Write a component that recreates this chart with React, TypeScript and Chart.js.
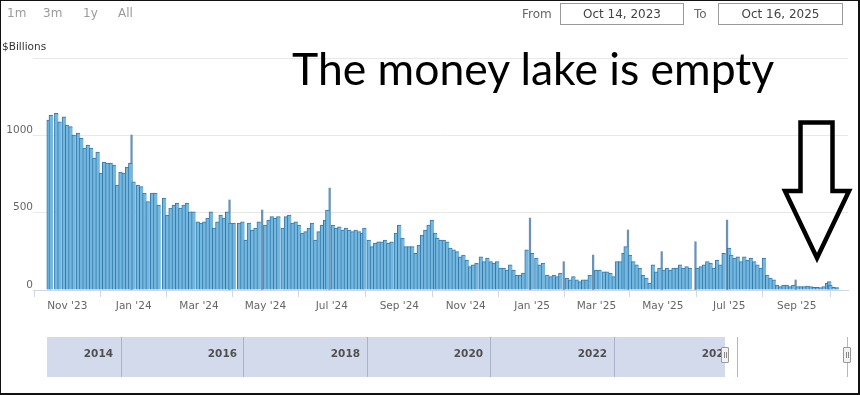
import React, { useEffect, useRef } from 'react';
import { Chart, registerables } from 'chart.js';

Chart.register(...registerables);

// ---- data (ON RRP facility, $ billions), day offsets counted from Oct 14, 2023 ----
const fromLabel = 'Oct 14, 2023';
const toLabel = 'Oct 16, 2025';

const dayOffsets = [
  1, 3, 8, 11, 15, 18, 21, 24, 28, 31, 34, 37, 40, 43, 46, 49, 52, 55, 58, 61, 64, 67, 70, 73, 76, 79, 83, 86, 89,
  92, 96, 99, 102, 107, 110, 113, 116, 119, 122, 125, 128, 131, 134, 138, 141, 144, 147, 150, 153, 156, 159, 162, 165, 168, 171,
  176, 179, 182, 185, 188, 191, 194, 200, 203, 206, 209, 212, 216, 219, 222, 225, 228, 231, 234, 237, 240, 243, 246, 249, 252,
  255, 257, 262, 265, 268, 271, 274, 277, 280, 283, 286, 289, 291, 295, 298, 301, 304, 307, 310, 313, 316, 320, 323, 326, 329,
  332, 335, 338, 341, 344, 347, 350, 353, 356, 358, 361, 364, 367, 370, 373, 376, 379, 382, 385, 388, 391, 394, 398, 401, 404, 407,
  410, 413, 416, 419, 422, 425, 428, 431, 434, 437, 440, 445, 449, 452, 455, 459, 462, 465, 468, 471, 477, 480, 483, 486,
  489, 492, 495, 498, 504, 507, 511, 514, 517, 520, 523, 526, 529, 531, 535, 538, 541, 544, 547, 550, 553, 556, 559, 562,
  566, 569, 572, 575, 578, 581, 584, 587, 590, 597, 600, 603, 606, 609, 612, 615, 618, 621, 626, 628, 631, 634, 637,
  640, 643, 646, 649, 652, 655, 658, 661, 664, 667, 670, 673, 676, 679, 682, 685, 689, 692, 695, 698, 701, 704, 707, 710, 713,
  716, 718, 719, 722, 725,
];

const rrpBillions = [
  1099, 1131, 1142, 1088, 1120, 1067, 1056, 1002, 1015, 983, 918, 937, 918, 853, 892, 756, 827, 821, 821, 808, 679, 763, 756, 795, 821, 700, 679, 668, 627,
  571, 627, 627, 549, 595, 485, 530, 549, 562, 530, 549, 562, 506, 506, 441, 433, 441, 465, 506, 401, 441, 485, 465, 506, 433, 433,
  433, 441, 323, 433, 388, 401, 441, 420, 452, 474, 465, 474, 401, 474, 485, 433, 441, 420, 368, 377, 401, 433, 323, 377, 420,
  452, 517, 420, 401, 409, 388, 401, 388, 377, 388, 377, 368, 401, 323, 280, 304, 312, 312, 323, 304, 312, 368, 420, 336, 280,
  280, 280, 237, 291, 355, 388, 420, 452, 368, 336, 323, 323, 312, 271, 259, 248, 215, 226, 194, 151, 162, 174, 215, 183, 207, 183,
  174, 183, 142, 142, 129, 162, 129, 97, 97, 110, 259, 237, 207, 162, 174, 97, 86, 97, 86, 110, 77, 65, 86, 65,
  54, 65, 65, 97, 129, 129, 118, 118, 110, 86, 183, 183, 237, 280, 226, 183, 162, 142, 97, 77, 45, 162, 118, 142,
  129, 142, 129, 142, 142, 162, 142, 151, 142, 142, 151, 162, 183, 174, 142, 194, 162, 237, 271, 226, 207, 215, 183,
  215, 194, 207, 183, 162, 142, 207, 97, 77, 65, 32, 22, 32, 32, 22, 32, 22, 22, 22, 26, 22, 17, 17, 15, 22,
  45, 54, 32, 17, 15,
];

// month-end / quarter-end one-day spikes
const spikeDays = [77, 167, 197, 259, 443, 474, 501, 533, 564, 595, 624, 687];
const spikeBillions = [1002, 582, 517, 659, 465, 183, 226, 388, 248, 312, 452, 65];

const yTickValues = [0, 500, 1000, 1500];
const monthTickDays = [18, 79, 139, 200, 261, 323, 384, 445, 504, 565, 626, 688];
const monthTickLabels = ["Nov '23", "Jan '24", "Mar '24", "May '24", "Jul '24", "Sep '24", "Nov '24", "Jan '25", "Mar '25", "May '25", "Jul '25", "Sep '25"];

const rangeButtons = ['1m', '3m', '1y', 'All'];
const navigatorYears = ['2014', '2016', '2018', '2020', '2022', '2024'];
const yAxisTitle = '$Billions';
const headline = 'The money lake is empty';

const FONT = '"DejaVu Sans", Verdana, sans-serif';

export default function App() {
  const canvasRef = useRef<HTMLCanvasElement | null>(null);

  useEffect(() => {
    document.body.style.margin = '0';
    const canvas = canvasRef.current;
    if (!canvas) return;
    const chart = new Chart(canvas, {
      type: 'bar',
      data: {
        datasets: [
          {
            data: dayOffsets.map((d, i) => ({ x: d, y: rrpBillions[i] })),
            backgroundColor: '#74b8e0',
            borderColor: '#3379aa',
            borderWidth: { left: 1, top: 1, right: 0, bottom: 0 },
            borderSkipped: 'start',
            barThickness: 4,
            grouped: false,
            order: 1,
          } as any,
          {
            data: spikeDays.map((d, i) => ({ x: d, y: spikeBillions[i] })),
            backgroundColor: '#6a93b4',
            borderWidth: 0,
            barThickness: 1.6,
            grouped: false,
            order: 2,
          } as any,
        ],
      },
      options: {
        animation: false,
        responsive: false,
        maintainAspectRatio: false,
        devicePixelRatio: 1,
        layout: { padding: { top: 58, left: 0, right: 12, bottom: 0 } },
        plugins: { legend: { display: false }, tooltip: { enabled: false }, title: { display: false } },
        scales: {
          x: {
            type: 'linear',
            min: -13.5,
            max: 735.1,
            offset: false,
            afterBuildTicks: (s: any) => {
              s.ticks = monthTickDays.map((v) => ({ value: v }));
            },
            afterFit: (s: any) => {
              s.height = 30;
            },
            ticks: {
              autoSkip: false,
              maxRotation: 0,
              minRotation: 0,
              color: '#666',
              padding: 3,
              font: { family: FONT, size: 10.5 },
              callback: (v: any) => {
                const i = monthTickDays.indexOf(Number(v));
                return i >= 0 ? monthTickLabels[i] : '';
              },
            },
            grid: { drawOnChartArea: false, drawTicks: true, tickLength: 7, color: '#d0d6e2' },
            border: { display: true, color: '#d0d6e2' },
          },
          y: {
            min: 0,
            max: 1500,
            afterBuildTicks: (s: any) => {
              s.ticks = yTickValues.map((v) => ({ value: v }));
            },
            afterFit: (s: any) => {
              s.width = 33;
            },
            ticks: {
              color: '#666',
              padding: 0,
              labelOffset: -5,
              font: { family: FONT, size: 10.5 },
              callback: (v: any) => (Number(v) === 1500 ? '' : String(v)),
            },
            grid: { color: '#e8e8e8', drawTicks: false },
            border: { display: false },
          },
        },
      },
    });
    return () => chart.destroy();
  }, []);

  const dividerXs = [121, 243, 367, 490, 614];
  const yearRightEdges = [113, 237, 360, 483, 607, 731];
  const buttonXs = [7, 43, 83, 118];

  return (
    <div style={{ position: 'relative', width: 860, height: 395, background: '#fff', overflow: 'hidden', fontFamily: FONT }}>
      <canvas ref={canvasRef} width={860} height={320} style={{ position: 'absolute', left: 0, top: 0, width: 860, height: 320 }} />

      {/* range selector */}
      {rangeButtons.map((b, i) => (
        <div key={b} style={{ position: 'absolute', left: buttonXs[i], top: 5, fontSize: 12, color: '#9a9a9a', lineHeight: '16px' }}>{b}</div>
      ))}

      {/* from / to */}
      <div style={{ position: 'absolute', left: 522, top: 6, fontSize: 12, color: '#666', lineHeight: '16px' }}>From</div>
      <div style={{ position: 'absolute', left: 560, top: 3, width: 124, height: 22, boxSizing: 'border-box', border: '1px solid #9a9a9a', fontSize: 12, color: '#444', textAlign: 'center', lineHeight: '20px' }}>{fromLabel}</div>
      <div style={{ position: 'absolute', left: 694, top: 6, fontSize: 12, color: '#666', lineHeight: '16px' }}>To</div>
      <div style={{ position: 'absolute', left: 718, top: 3, width: 125, height: 22, boxSizing: 'border-box', border: '1px solid #9a9a9a', fontSize: 12, color: '#444', textAlign: 'center', lineHeight: '20px' }}>{toLabel}</div>

      {/* axis title */}
      <div style={{ position: 'absolute', left: 2, top: 39, fontSize: 10.5, color: '#333', lineHeight: '14px' }}>{yAxisTitle}</div>

      {/* headline */}
      <div style={{ position: 'absolute', left: 292, top: 43, fontSize: 44.5, color: '#000', lineHeight: '50px', fontFamily: 'Lato, "Open Sans", sans-serif', whiteSpace: 'nowrap' }}>{headline}</div>

      {/* arrow annotation */}
      <svg width={860} height={395} style={{ position: 'absolute', left: 0, top: 0, pointerEvents: 'none' }}>
        <polygon points="800.5,122.5 832.5,122.5 832.5,191 849,191 817,258 785,191 800.5,191" fill="none" stroke="#000" strokeWidth={4.5} strokeLinejoin="miter" />
      </svg>

      {/* navigator */}
      <div style={{ position: 'absolute', left: 47, top: 337, width: 678, height: 40, background: '#d3daec' }} />
      {dividerXs.map((x) => (
        <div key={x} style={{ position: 'absolute', left: x, top: 337, width: 1, height: 40, background: '#aab3ca' }} />
      ))}
      {navigatorYears.map((y, i) => (
        <div key={y} style={{ position: 'absolute', left: yearRightEdges[i] - 60, width: 60, top: 346, textAlign: 'right', fontSize: 10.5, fontWeight: 'bold', color: '#505050', lineHeight: '14px', overflow: 'hidden' }}>{y}</div>
      ))}
      <div style={{ position: 'absolute', left: 725, top: 337, width: 125, height: 40, background: '#fff' }} />
      <div style={{ position: 'absolute', left: 737, top: 337, width: 1, height: 40, background: '#b8b8b8' }} />
      <div style={{ position: 'absolute', left: 847, top: 337, width: 1, height: 40, background: '#b8b8b8' }} />
      {[721, 843].map((x) => (
        <div key={x} style={{ position: 'absolute', left: x, top: 347, width: 8, height: 16, boxSizing: 'border-box', background: '#f2f2f2', border: '1px solid #999', borderRadius: 1 }}>
          <div style={{ position: 'absolute', left: 2, top: 4, width: 1, height: 6, background: '#888' }} />
          <div style={{ position: 'absolute', left: 4, top: 4, width: 1, height: 6, background: '#888' }} />
        </div>
      ))}

      {/* outer frame */}
      <div style={{ position: 'absolute', left: 0, top: 0, width: 860, height: 395, boxSizing: 'border-box', border: '1px solid #111', borderRightWidth: 2, borderBottomWidth: 2, pointerEvents: 'none' }} />
    </div>
  );
}
